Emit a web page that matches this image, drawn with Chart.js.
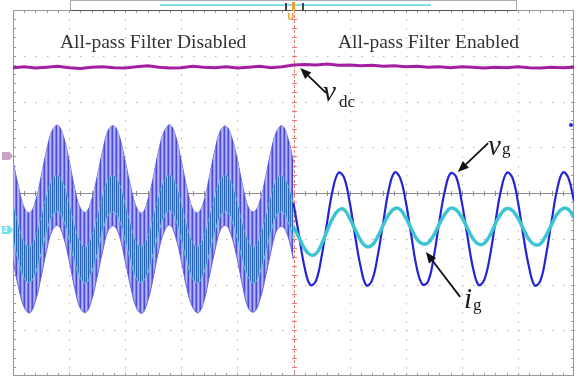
<!DOCTYPE html>
<html>
<head>
<meta charset="utf-8">
<script src="https://cdn.jsdelivr.net/npm/chart.js@4/dist/chart.umd.min.js"></script>
<style>
  body { margin: 0; background: #fff; }
  #wrap { position: relative; width: 588px; height: 376px; overflow: hidden; }
  .lbl { position: absolute; font-family: "Liberation Serif", "Times New Roman", serif; color: #2a2a2a; white-space: nowrap; }
  .ttl { font-size: 19.5px; line-height: 19.5px; color: #333; }
  .sym { font-style: italic; font-size: 29px; line-height: 29px; color: #1a1a1a; }
  .sub { font-size: 17px; line-height: 17px; color: #1a1a1a; }
</style>
</head>
<body>
<div id="wrap">
  <canvas id="scope" width="588" height="376"></canvas>

  <!-- record bar + trigger marks on top -->
  <div style="position:absolute;left:70px;top:0;width:447px;height:11px;box-sizing:border-box;border:1px solid #aaa;border-bottom:1.5px solid #555;background:#fff"></div>
  <div style="position:absolute;left:160px;top:4px;width:271px;height:1.5px;background:#86dde6"></div>
  <div style="position:absolute;left:285px;top:3px;width:1.5px;height:8px;background:#444"></div>
  <div style="position:absolute;left:302px;top:3px;width:1.5px;height:8px;background:#444"></div>
  <div style="position:absolute;left:292px;top:2px;width:2.5px;height:9px;background:#f0a030"></div>
  <div style="position:absolute;left:287px;top:12px;font:bold 9px 'DejaVu Sans';color:#f0a030">U</div>

  <!-- channel markers -->
  <div style="position:absolute;left:2px;top:152px;width:11px;height:8px;background:#c9a3c9;clip-path:polygon(0 0,70% 0,100% 50%,70% 100%,0 100%)"></div>
  <div style="position:absolute;left:2px;top:226px;width:11px;height:8px;background:#6ee2e8;clip-path:polygon(0 0,70% 0,100% 50%,70% 100%,0 100%);font:bold 7px 'DejaVu Sans';color:#fff;line-height:8px;padding-left:1px;box-sizing:border-box">2</div>
  <div style="position:absolute;left:569px;top:123px;width:4px;height:4px;border-radius:2px;background:#2a2ae0"></div>

  <!-- texts -->
  <div class="lbl ttl" style="left:60px;top:32px">All-pass Filter Disabled</div>
  <div class="lbl ttl" style="left:338px;top:32px">All-pass Filter Enabled</div>
  <div class="lbl sym" style="left:323px;top:77px">v</div>
  <div class="lbl sub" style="left:339px;top:93px">dc</div>
  <div class="lbl sym" style="left:488px;top:131px">v</div>
  <div class="lbl sub" style="left:502px;top:140px">g</div>
  <div class="lbl sym" style="left:464px;top:284px">i</div>
  <div class="lbl sub" style="left:473px;top:296px">g</div>
</div>

<script>
// time in divisions (10 across), amplitude in divisions (8 down)
const leftStart = 0, rightStart = 5, waveStep = 0.1, dcStep = 0.2;

// vdc trace (whole screen)
const vdc = [2.74, 2.76, 2.73, 2.75, 2.77, 2.74, 2.72, 2.75, 2.76, 2.74, 2.73, 2.76, 2.78,
  2.75, 2.73, 2.74, 2.77, 2.75, 2.74, 2.76, 2.73, 2.75, 2.77, 2.74, 2.76, 2.80,
  2.81, 2.80, 2.82, 2.79, 2.80, 2.78, 2.79, 2.77, 2.78, 2.76, 2.77, 2.75, 2.76,
  2.74, 2.76, 2.75, 2.73, 2.75, 2.74, 2.76, 2.74, 2.73, 2.75, 2.74, 2.75];

// filter disabled: vg envelope (switching ripple band)
const vgLeftUpper = [0.70, 0.12, -0.32, -0.43, -0.18, 0.35, 0.94, 1.37, 1.48, 1.23,
  0.71, 0.10, -0.33, -0.42, -0.16, 0.36, 0.93, 1.38, 1.47, 1.22,
  0.69, 0.13, -0.31, -0.44, -0.17, 0.34, 0.95, 1.36, 1.49, 1.24,
  0.70, 0.11, -0.34, -0.43, -0.19, 0.35, 0.94, 1.37, 1.46, 1.21,
  0.72, 0.12, -0.32, -0.41, -0.18, 0.33, 0.92, 1.35, 1.47, 1.20, 0.68];
const vgLeftLower = [-1.48, -2.07, -2.50, -2.62, -2.36, -1.84, -1.25, -0.82, -0.71, -0.96,
  -1.47, -2.08, -2.52, -2.61, -2.35, -1.83, -1.26, -0.81, -0.72, -0.95,
  -1.49, -2.06, -2.51, -2.63, -2.37, -1.85, -1.24, -0.83, -0.70, -0.97,
  -1.48, -2.09, -2.49, -2.62, -2.38, -1.82, -1.25, -0.80, -0.71, -0.96,
  -1.46, -2.07, -2.53, -2.60, -2.34, -1.84, -1.27, -0.82, -0.73, -0.94, -1.45];
// filter disabled: ig envelope
const igLeftUpper = [-0.25, -0.73, -1.09, -1.18, -0.97, -0.54, -0.06, 0.29, 0.38, 0.18,
  -0.24, -0.74, -1.08, -1.19, -0.96, -0.55, -0.05, 0.30, 0.37, 0.17,
  -0.26, -0.72, -1.10, -1.17, -0.98, -0.53, -0.07, 0.28, 0.39, 0.19,
  -0.25, -0.73, -1.09, -1.18, -0.97, -0.54, -0.06, 0.29, 0.38, 0.18,
  -0.23, -0.74, -1.08, -1.19, -0.96, -0.55, -0.07, 0.30, 0.37, 0.16, -0.26];
const igLeftLower = [-1.03, -1.51, -1.87, -1.96, -1.75, -1.32, -0.84, -0.49, -0.40, -0.60,
  -1.02, -1.52, -1.86, -1.97, -1.74, -1.33, -0.83, -0.48, -0.41, -0.61,
  -1.04, -1.50, -1.88, -1.95, -1.76, -1.31, -0.85, -0.50, -0.39, -0.59,
  -1.03, -1.51, -1.87, -1.96, -1.75, -1.32, -0.84, -0.49, -0.40, -0.60,
  -1.01, -1.52, -1.86, -1.97, -1.74, -1.33, -0.85, -0.48, -0.41, -0.62, -1.04];

// filter enabled
const vgRight = [-0.22, -0.94, -1.64, -2.01, -1.92, -1.39, -0.63, 0.07, 0.44, 0.34,
  -0.19, -0.95, -1.63, -2.02, -1.91, -1.38, -0.64, 0.08, 0.45, 0.33,
  -0.18, -0.93, -1.65, -2.00, -1.93, -1.40, -0.62, 0.06, 0.43, 0.35,
  -0.20, -0.94, -1.64, -2.01, -1.90, -1.39, -0.63, 0.07, 0.44, 0.34,
  -0.19, -0.96, -1.63, -2.02, -1.92, -1.37, -0.62, 0.08, 0.45, 0.33, -0.18];
const igRight = [-0.74, -0.98, -1.22, -1.35, -1.33, -1.12, -0.82, -0.55, -0.38, -0.36,
  -0.55, -0.80, -1.04, -1.17, -1.14, -0.96, -0.70, -0.47, -0.34, -0.36,
  -0.54, -0.78, -1.01, -1.11, -1.09, -0.92, -0.68, -0.46, -0.33, -0.37,
  -0.53, -0.77, -1.00, -1.12, -1.10, -0.93, -0.67, -0.45, -0.34, -0.38,
  -0.55, -0.79, -1.02, -1.13, -1.11, -0.93, -0.69, -0.46, -0.34, -0.36, -0.54];

// arrows: [fromX, fromY, toX, toY] in divisions
const arrows = [
  [5.58, 2.19, 5.12, 2.73],
  [8.47, 1.09, 7.93, 0.46],
  [7.97, -2.27, 7.36, -1.29]
];

const pts = (arr, x0, dx) => arr.map((v, i) => ({ x: x0 + i * dx, y: v }));

function stripes(cols) {
  const c = document.createElement('canvas');
  c.width = cols.length; c.height = 1;
  const g = c.getContext('2d');
  cols.forEach((col, i) => { g.fillStyle = col; g.fillRect(i, 0, 1, 1); });
  return g.createPattern(c, 'repeat');
}

const scopeGrid = {
  id: 'scopeGrid',
  beforeDatasetsDraw(chart) {
    const { ctx, chartArea: a, scales: { x, y } } = chart;
    ctx.save();
    // dotted graticule
    ctx.fillStyle = '#b0b0b0';
    for (let i = 1; i < 10; i++) {
      if (i === 5) continue;
      const px = Math.round(x.getPixelForValue(i));
      for (let j = 0; j <= 40; j++) ctx.fillRect(px, Math.round(y.getPixelForValue(-4 + j * 0.2)), 1, 1.5);
    }
    for (let i = -3; i <= 3; i++) {
      if (i === 0) continue;
      const py = Math.round(y.getPixelForValue(i));
      for (let j = 0; j <= 50; j++) ctx.fillRect(Math.round(x.getPixelForValue(j * 0.2)), py, 1.5, 1);
    }
    // frame
    ctx.strokeStyle = '#999';
    ctx.lineWidth = 1;
    ctx.strokeRect(a.left + 0.5, a.top + 0.5, a.right - a.left - 1, a.bottom - a.top - 1);
    ctx.beginPath();
    for (let j = 1; j < 50; j++) {
      const px = Math.round(x.getPixelForValue(j * 0.2)) + 0.5;
      ctx.moveTo(px, a.top); ctx.lineTo(px, a.top + 3);
      ctx.moveTo(px, a.bottom); ctx.lineTo(px, a.bottom - 3);
    }
    for (let j = 1; j < 40; j++) {
      const py = Math.round(y.getPixelForValue(-4 + j * 0.2)) + 0.5;
      ctx.moveTo(a.left, py); ctx.lineTo(a.left + 3, py);
      ctx.moveTo(a.right, py); ctx.lineTo(a.right - 3, py);
    }
    ctx.stroke();
    // horizontal centre line
    const cy = Math.round(y.getPixelForValue(0)) + 0.5;
    ctx.strokeStyle = '#8a8a8a';
    ctx.beginPath();
    ctx.moveTo(a.left, cy); ctx.lineTo(a.right, cy);
    for (let j = 1; j < 50; j++) {
      const px = Math.round(x.getPixelForValue(j * 0.2)) + 0.5;
      ctx.moveTo(px, cy - 2.5); ctx.lineTo(px, cy + 2.5);
    }
    ctx.stroke();
    // trigger line
    const cx = Math.round(x.getPixelForValue(5)) + 0.5;
    ctx.strokeStyle = '#e57a7a';
    ctx.setLineDash([3, 2]);
    ctx.beginPath(); ctx.moveTo(cx, a.top); ctx.lineTo(cx, a.bottom); ctx.stroke();
    ctx.setLineDash([]);
    ctx.beginPath();
    for (let j = 1; j < 40; j++) {
      const py = Math.round(y.getPixelForValue(-4 + j * 0.2)) + 0.5;
      ctx.moveTo(cx - 2.5, py); ctx.lineTo(cx + 2.5, py);
    }
    ctx.stroke();
    ctx.restore();
  }
};

const arrowPlugin = {
  id: 'arrowPlugin',
  afterDatasetsDraw(chart) {
    const { ctx, scales: { x, y } } = chart;
    ctx.save();
    ctx.strokeStyle = '#111';
    ctx.fillStyle = '#111';
    ctx.lineWidth = 1.8;
    arrows.forEach(([x1, y1, x2, y2]) => {
      const ax = x.getPixelForValue(x1), ay = y.getPixelForValue(y1);
      const bx = x.getPixelForValue(x2), by = y.getPixelForValue(y2);
      const ang = Math.atan2(by - ay, bx - ax);
      const len = 11, hw = 4.5;
      const baseX = bx - len * Math.cos(ang), baseY = by - len * Math.sin(ang);
      ctx.beginPath(); ctx.moveTo(ax, ay); ctx.lineTo(baseX, baseY); ctx.stroke();
      ctx.beginPath();
      ctx.moveTo(bx, by);
      ctx.lineTo(baseX + hw * Math.sin(ang), baseY - hw * Math.cos(ang));
      ctx.lineTo(baseX - hw * Math.sin(ang), baseY + hw * Math.cos(ang));
      ctx.closePath(); ctx.fill();
    });
    ctx.restore();
  }
};

const blueBand = stripes(['#4a4ad4', '#9c9cec', '#b4b4f2', '#7c7ce2']);
const cyanBand = stripes(['#2b5eae', '#4cc2d8', '#2f74bc', '#6ad4e4']);

new Chart(document.getElementById('scope'), {
  type: 'line',
  data: {
    datasets: [
      { label: 'vg upper', data: pts(vgLeftUpper, leftStart, waveStep), borderColor: '#6464dc', borderWidth: 1, order: 6 },
      { label: 'vg lower', data: pts(vgLeftLower, leftStart, waveStep), borderColor: '#6464dc', borderWidth: 1, fill: '-1', backgroundColor: blueBand, order: 5 },
      { label: 'ig upper', data: pts(igLeftUpper, leftStart, waveStep), borderColor: '#58c8de', borderWidth: 1, order: 4 },
      { label: 'ig lower', data: pts(igLeftLower, leftStart, waveStep), borderColor: '#58c8de', borderWidth: 1, fill: '-1', backgroundColor: cyanBand, order: 3 },
      { label: 'vg', data: pts(vgRight, rightStart, waveStep), borderColor: '#2424d4', borderWidth: 2.2, order: 2 },
      { label: 'ig', data: pts(igRight, rightStart, waveStep), borderColor: '#3cc6d2', borderWidth: 3.5, order: 1 },
      { label: 'vdc', data: pts(vdc, 0, dcStep), borderColor: '#a41ea4', borderWidth: 3, tension: 0, order: 0 }
    ]
  },
  options: {
    responsive: false,
    animation: false,
    events: [],
    layout: { padding: { left: 13, right: 14, top: 10, bottom: 0 } },
    elements: { point: { radius: 0 }, line: { tension: 0.4 } },
    plugins: { legend: { display: false }, tooltip: { enabled: false } },
    scales: {
      x: { type: 'linear', min: 0, max: 10, display: false },
      y: { type: 'linear', min: -4, max: 4, display: false }
    }
  },
  plugins: [scopeGrid, arrowPlugin]
});
</script>
</body>
</html>
